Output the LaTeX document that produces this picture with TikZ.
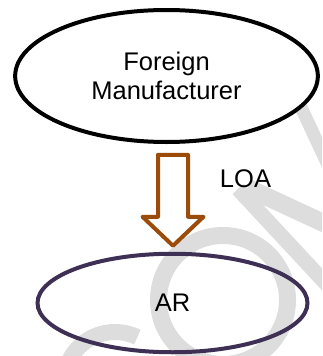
\documentclass[tikz,border=0pt]{standalone}
\usepackage{fontspec}
\setmainfont{Liberation Sans}
\usetikzlibrary{shapes.geometric,calc}
\definecolor{arrowbrown}{RGB}{155,75,10}
\definecolor{arpurple}{RGB}{62,48,84}
\definecolor{wmgray}{RGB}{221,221,221}
\begin{document}
\begin{tikzpicture}[x=1pt,y=-1pt,
  bubble/.style={ellipse, line width=4pt, inner sep=0pt,
                 font=\fontsize{25.5}{28.5}\selectfont, align=center},
  wmstroke/.style={draw=wmgray, line width=#1, line cap=butt},
  blockarrow/.style={draw=arrowbrown, fill=white, line width=4pt, line join=round},
  lbl/.style={font=\fontsize{25.5}{28.5}\selectfont, inner sep=0pt}]
\useasboundingbox (0,0) rectangle (322,356);

% faint background watermark strokes
\begin{scope}
  \clip (0,0) rectangle (322,356);
  \draw[wmstroke=16pt] (115,383) ++(-64:51) arc[start angle=-64, end angle=-165, radius=51];
  \draw[wmstroke=17pt] (223,300) circle[radius=64.5];
  \draw[wmstroke=15pt] (238,189) -- (345,304);
  \draw[wmstroke=18pt] (248,188) -- (345,233);
  \draw[wmstroke=13pt] (300,105) -- (335,180);
\end{scope}

% the two parties
\node[bubble, draw=black, fill=white, minimum width=302.7pt, minimum height=132pt]
  (fm) at (166.5,76) {Foreign\\Manufacturer};
\node[bubble, draw=arpurple, minimum width=270pt, minimum height=98.5pt]
  (ar) at (172.5,303) {AR};

% block arrow from manufacturer down to AR
\coordinate (tip) at ($(ar.north)+(0.5,-6)$);
\draw[blockarrow] ($(tip)+(-15,-91)$) -- ($(tip)+(15,-91)$) -- ($(tip)+(15,-29)$)
  -- ($(tip)+(30.5,-29)$) -- (tip) -- ($(tip)+(-30.5,-29)$) -- ($(tip)+(-15,-29)$) -- cycle;

\node[lbl] (loa) at (245.5,179) {LOA};
\end{tikzpicture}
\end{document}
